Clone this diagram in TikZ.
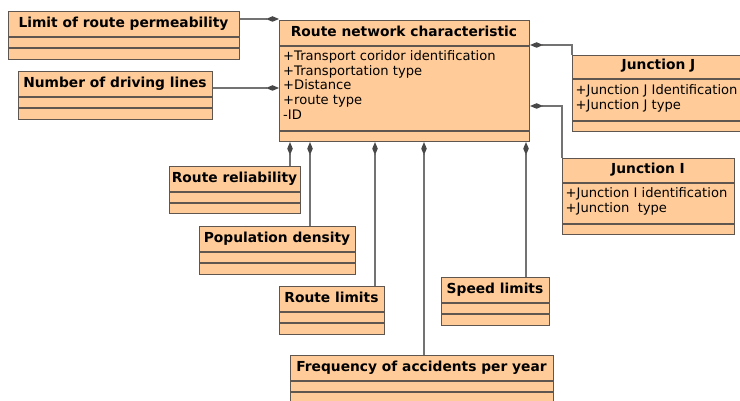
\documentclass[tikz,border=0pt]{standalone}
\usepackage{fontspec}
\setmainfont{DejaVu Sans}
\usetikzlibrary{arrows.meta}

\definecolor{classfill}{RGB}{255,204,153}
\definecolor{classline}{RGB}{96,86,80}
\definecolor{linkline}{RGB}{115,115,115}
\definecolor{diamondfill}{RGB}{72,72,72}

\tikzset{
  classbox/.style={draw=classline, fill=classfill, line width=1.1pt, inner sep=0pt, anchor=north west},
  compsep/.style={draw=classline, line width=1.1pt},
  classtitle/.style={anchor=base, inner sep=0pt, font=\fontsize{13.8}{15}\selectfont\bfseries},
  attrtext/.style={anchor=base west, inner sep=0pt, font=\fontsize{13.1}{15}\selectfont},
  comp/.style={draw=linkline, line width=1.05pt,
    {Diamond[length=13pt,width=5.5pt,fill=diamondfill,color=diamondfill]}-}
}

% UML class: name, x1, y1, x2, y2, first separator y, second separator y, title
\newcommand\umlclass[8]{
  \node[classbox, minimum width={(#4-#2)*1pt}, minimum height={(#5-#3)*1pt}] (#1) at (#2,#3) {};
  \draw[compsep] (#1.west |- 0,#6) -- (#1.east |- 0,#6);
  \draw[compsep] (#1.west |- 0,#7) -- (#1.east |- 0,#7);
  \node[classtitle] (#1-title) at ({(#2+#4)/2},{#6-9.5}) {#8};
}

\begin{document}
\begin{tikzpicture}[x=1pt,y=-1pt]
\useasboundingbox (0,0) rectangle (740,401);

% classes
\umlclass{main}{279}{20}{529}{141}{46}{131}{Route network characteristic}
\umlclass{lim}{8}{11}{239}{59}{37}{48}{Limit of route permeability}
\umlclass{ndl}{18}{71}{212}{119}{97}{108}{Number of driving lines}
\umlclass{jj}{572}{55}{745}{131}{79}{121}{Junction J}
\umlclass{ji}{562}{158}{734}{234}{183}{224}{Junction I}
\umlclass{rr}{169}{166}{300}{213}{192}{203}{Route reliability}
\umlclass{pd}{199}{226}{355}{274}{252}{263}{Population density}
\umlclass{rl}{279}{286}{384}{334}{312}{323}{Route limits}
\umlclass{sl}{441}{277}{549}{325}{303}{314}{Speed limits}
\umlclass{fa}{290}{355}{553}{404}{381}{392}{Frequency of accidents per year}

% attributes
\node[attrtext] (main-a1) at (283,60.8) {+Transport coridor identification};
\node[attrtext] (main-a2) at (283,75.4) {+Transportation type};
\node[attrtext] (main-a3) at (283,90.0) {+Distance};
\node[attrtext] (main-a4) at (283,104.6) {+route type};
\node[attrtext] (main-a5) at (283,119.2) {-ID};

\node[attrtext] (jj-a1) at (575.5,95) {+Junction J Identification};
\node[attrtext] (jj-a2) at (575.5,109.6) {+Junction J type};

\node[attrtext] (ji-a1) at (565.5,198) {+Junction I identification};
\node[attrtext] (ji-a2) at (565.5,212.6) {+Junction\ \ type};

% composition links
\draw[comp] (main.west |- 0,19) -- (lim.east |- 0,19);
\draw[comp] (main.west |- 0,88) -- (ndl.east |- 0,88);
\draw[comp] (main.east |- 0,45) -| (jj.north west);
\draw[comp] (main.east |- 0,106) -| (ji.north west);
\draw[comp] (main.south -| 290,0) -- (rr.north -| 290,0);
\draw[comp] (main.south -| 310,0) -- (pd.north -| 310,0);
\draw[comp] (main.south -| 375,0) -- (rl.north -| 375,0);
\draw[comp] (main.south -| 424,0) -- (fa.north -| 424,0);
\draw[comp] (main.south -| 526,0) -- (sl.north -| 526,0);
\end{tikzpicture}
\end{document}
